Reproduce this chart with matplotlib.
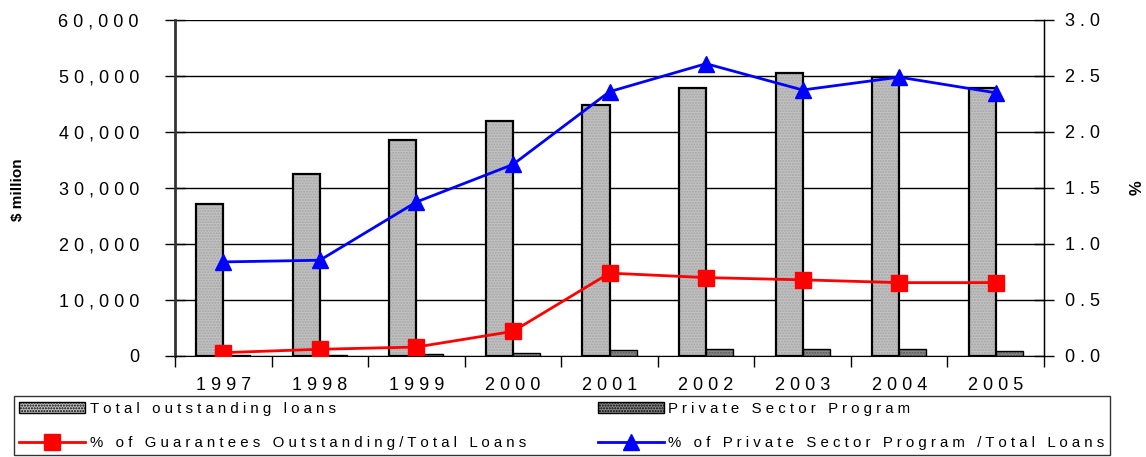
import matplotlib
matplotlib.use("Agg")
import matplotlib.pyplot as plt
import numpy as np
from matplotlib.ticker import FixedLocator, FuncFormatter
from matplotlib.patches import Patch
from matplotlib.lines import Line2D

years = ["1997", "1998", "1999", "2000", "2001", "2002", "2003", "2004", "2005"]
total_loans = [27200, 32500, 38600, 41900, 44900, 47900, 50600, 49800, 47900]
private_program = [200, 200, 400, 600, 1000, 1200, 1200, 1200, 950]
pct_guarantees = [0.03, 0.06, 0.08, 0.22, 0.74, 0.70, 0.68, 0.655, 0.655]
pct_private = [0.84, 0.855, 1.375, 1.71, 2.36, 2.61, 2.375, 2.49, 2.35]

labels = ["Total outstanding loans", "Private Sector Program",
          "% of Guarantees Outstanding/Total Loans",
          "% of Private Sector Program /Total Loans"]

plt.rcParams['font.family'] = ['Liberation Sans', 'DejaVu Sans']


def spaced(s):
    return " ".join(s)


fig = plt.figure(figsize=(11.46, 4.57), dpi=100)
ax = fig.add_axes([175 / 1146, 1 - 356 / 457, (1044 - 175) / 1146, (356 - 20) / 457])
ax2 = ax.twinx()

x = np.arange(len(years))
w = 0.28
TOTAL_FC, TOTAL_HC = '#c2c2c2', '#a4a4a4'
PRIV_FC, PRIV_HC = '#8a8a8a', '#555555'
ax.bar(x - w / 2, total_loans, width=w, facecolor=TOTAL_FC, edgecolor=TOTAL_HC,
       linewidth=0, hatch='......', zorder=3)
ax.bar(x - w / 2, total_loans, width=w, fill=False, edgecolor='black',
       linewidth=1.6, zorder=3)
ax.bar(x + w / 2, private_program, width=w, facecolor=PRIV_FC, edgecolor=PRIV_HC,
       linewidth=0, hatch='......', zorder=3)
ax.bar(x + w / 2, private_program, width=w, fill=False, edgecolor='black',
       linewidth=1.0, zorder=3)

ax2.plot(x, pct_guarantees, color='#ff0000', lw=2, marker='s', ms=11, zorder=4)
ax2.plot(x, pct_private, color='#0000ff', lw=2, marker='^', ms=12, zorder=4)

ax.set_xlim(-0.5, len(years) - 0.5)
ax.set_ylim(0, 60000)
ax2.set_ylim(0, 3.0)
ax.set_yticks(np.arange(0, 60001, 10000))
ax2.set_yticks(np.arange(0, 3.01, 0.5))
ax.yaxis.set_major_formatter(FuncFormatter(lambda v, p: spaced(f"{int(v):,}")))
ax2.yaxis.set_major_formatter(FuncFormatter(lambda v, p: spaced(f"{v:.1f}")))
ax.grid(axis='y', color='black', lw=1, zorder=0)
ax.set_axisbelow(True)

ax.set_xticks(x)
ax.set_xticklabels([spaced(y) for y in years])
ax.xaxis.set_minor_locator(FixedLocator(np.arange(-0.5, len(years), 1.0)))
ax.tick_params(axis='x', which='major', length=0, pad=15, labelsize=13)
ax.tick_params(axis='x', which='minor', length=8, direction='out', width=1)
ax.tick_params(axis='y', length=14, direction='inout', width=1, labelsize=13, pad=19)
ax2.tick_params(axis='y', length=14, direction='inout', width=1, labelsize=13, pad=8)

for a in (ax, ax2):
    a.spines['top'].set_visible(False)
ax.spines['left'].set_linewidth(2)
ax.spines['left'].set_color('#333333')
ax2.spines['left'].set_visible(False)
ax2.spines['right'].set_linewidth(1)
ax2.spines['bottom'].set_visible(False)

fig.text(18 / 1146, 1 - 190 / 457, "$ million", rotation=90, fontweight='bold',
         fontsize=11, ha='center', va='center')
fig.text(1137 / 1146, 1 - 188 / 457, "%", rotation=90, fontweight='bold',
         fontsize=12, ha='center', va='center')

h_total = Patch(facecolor=TOTAL_FC, edgecolor='black', hatch='......')
h_priv = Patch(facecolor=PRIV_FC, edgecolor='black', hatch='......')
h_red = Line2D([], [], color='#ff0000', lw=2, marker='s', ms=11)
h_blue = Line2D([], [], color='#0000ff', lw=2, marker='^', ms=12)
leg = fig.legend([h_total, h_red, h_priv, h_blue],
                 [spaced(labels[0]), spaced(labels[2]), spaced(labels[1]), spaced(labels[3])],
                 loc='upper left', bbox_to_anchor=(14 / 1146, 1 - 401 / 457, 1096 / 1146, 0.01),
                 mode='expand', ncol=2, frameon=True, fancybox=False, edgecolor='black',
                 fontsize=10.8, handlelength=4.4, handletextpad=0.3, labelspacing=1.35,
                 borderaxespad=0, borderpad=0.35)
leg.get_frame().set_linewidth(1)

fig.savefig("out.png", dpi=100)
